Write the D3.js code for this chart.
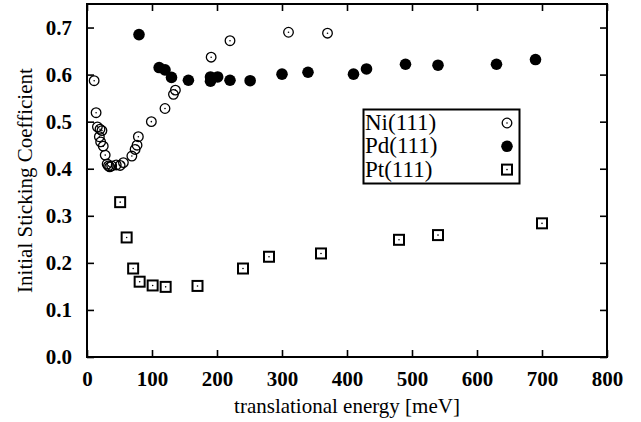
<!DOCTYPE html>
<html><head><meta charset="utf-8">
<script src="https://cdn.jsdelivr.net/npm/d3@7"></script>
<style>body{margin:0;background:#fff}svg{display:block}</style>
</head><body>
<script>
const niX = [11, 14, 16, 19, 20, 23, 21, 25, 28, 31, 33, 35, 38, 45, 51, 56, 69, 74, 77, 79, 99, 120, 133, 136, 191, 220, 310, 370];
const niY = [0.587, 0.519, 0.489, 0.468, 0.484, 0.481, 0.457, 0.448, 0.429, 0.41, 0.406, 0.404, 0.406, 0.408, 0.407, 0.413, 0.427, 0.441, 0.45, 0.468, 0.5, 0.528, 0.558, 0.567, 0.637, 0.672, 0.69, 0.688];
const pdX = [80, 111, 120, 130, 156, 190, 190, 201, 220, 251, 300, 340, 410, 430, 490, 540, 630, 690];
const pdY = [0.685, 0.615, 0.61, 0.594, 0.588, 0.595, 0.586, 0.595, 0.588, 0.587, 0.601, 0.605, 0.601, 0.612, 0.622, 0.62, 0.622, 0.632];
const ptX = [51, 61, 71, 81, 101, 121, 170, 240, 280, 360, 480, 540, 700];
const ptY = [0.329, 0.254, 0.188, 0.16, 0.152, 0.149, 0.151, 0.188, 0.213, 0.22, 0.249, 0.259, 0.284];
const seriesNames = ["Ni(111)", "Pd(111)", "Pt(111)"];
const xTicks = [0, 100, 200, 300, 400, 500, 600, 700, 800];
const yTicks = [0.0, 0.1, 0.2, 0.3, 0.4, 0.5, 0.6, 0.7];
const xTitle = "translational energy [meV]";
const yTitle = "Initial Sticking Coefficient";

const W = 641, H = 422;
const L = 87, R = 607, T = 4, B = 357;
const svg = d3.select("body").append("svg").attr("width", W).attr("height", H);
const x = d3.scaleLinear().domain([0, 800]).range([L, R]);
const y = d3.scaleLinear().domain([0, 0.75]).range([B, T]);
const font = "'Liberation Serif','Times New Roman',serif";

// ticks (inward, all four sides)
const tk = 7;
const axB = d3.axisBottom(x).tickValues(xTicks).tickSize(-tk).tickFormat(d3.format("d")).tickPadding(14);
const axT = d3.axisTop(x).tickValues(xTicks).tickSize(-tk).tickFormat("");
const axL = d3.axisLeft(y).tickValues(yTicks).tickSize(-tk).tickFormat(d3.format(".1f")).tickPadding(15);
const axR = d3.axisRight(y).tickValues(yTicks).tickSize(-tk).tickFormat("");
function style(g){
  g.select(".domain").remove();
  g.selectAll(".tick line").attr("stroke","#000").attr("stroke-width",1.6);
  g.selectAll(".tick text").attr("fill","#000").style("font-family",font).style("font-size","21px").style("font-weight","bold");
}
svg.append("g").attr("transform",`translate(0,${B})`).call(axB).call(style);
svg.append("g").attr("transform",`translate(0,${T})`).call(axT).call(style);
svg.append("g").attr("transform",`translate(${L},0)`).call(axL).call(style);
svg.append("g").attr("transform",`translate(${R},0)`).call(axR).call(style);

// frame
svg.append("rect").attr("x",L).attr("y",T).attr("width",R-L).attr("height",B-T)
  .attr("fill","none").attr("stroke","#000").attr("stroke-width",2);

// titles
svg.append("text").attr("x",(L+R)/2).attr("y",413).attr("text-anchor","middle")
  .style("font-family",font).style("font-size","21px").text(xTitle);
svg.append("text").attr("transform",`translate(32,${(T+B)/2}) rotate(-90)`).attr("text-anchor","middle")
  .style("font-family",font).style("font-size","21px").text(yTitle);

// markers
function niMark(g, cx, cy){
  g.append("circle").attr("cx",cx).attr("cy",cy).attr("r",4.8).attr("fill","none").attr("stroke","#000").attr("stroke-width",1.3);
  g.append("circle").attr("cx",cx).attr("cy",cy).attr("r",0.8).attr("fill","#000");
}
function pdMark(g, cx, cy){
  g.append("circle").attr("cx",cx).attr("cy",cy).attr("r",5.8).attr("fill","#000");
}
function ptMark(g, cx, cy){
  g.append("rect").attr("x",cx-5).attr("y",cy-5).attr("width",10).attr("height",10).attr("fill","#fff").attr("stroke","#000").attr("stroke-width",2);
  g.append("circle").attr("cx",cx).attr("cy",cy).attr("r",0.8).attr("fill","#000");
}
const gPt = svg.append("g");
ptX.forEach((v,i)=>ptMark(gPt, x(v), y(ptY[i])));
const gNi = svg.append("g");
niX.forEach((v,i)=>niMark(gNi, x(v), y(niY[i])));
const gPd = svg.append("g");
pdX.forEach((v,i)=>pdMark(gPd, x(v), y(pdY[i])));

// legend
const lg = svg.append("g");
lg.append("rect").attr("x",363.5).attr("y",109.5).attr("width",156).attr("height",74)
  .attr("fill","#fff").attr("stroke","#000").attr("stroke-width",2);
const marks = [niMark, pdMark, ptMark];
seriesNames.forEach((n,i)=>{
  const by = 130 + i*23.3;
  lg.append("text").attr("x",365).attr("y",by).style("font-family",font).style("font-size","23px").text(n);
  marks[i](lg, 507, by-7);
});
</script>
</body></html>
